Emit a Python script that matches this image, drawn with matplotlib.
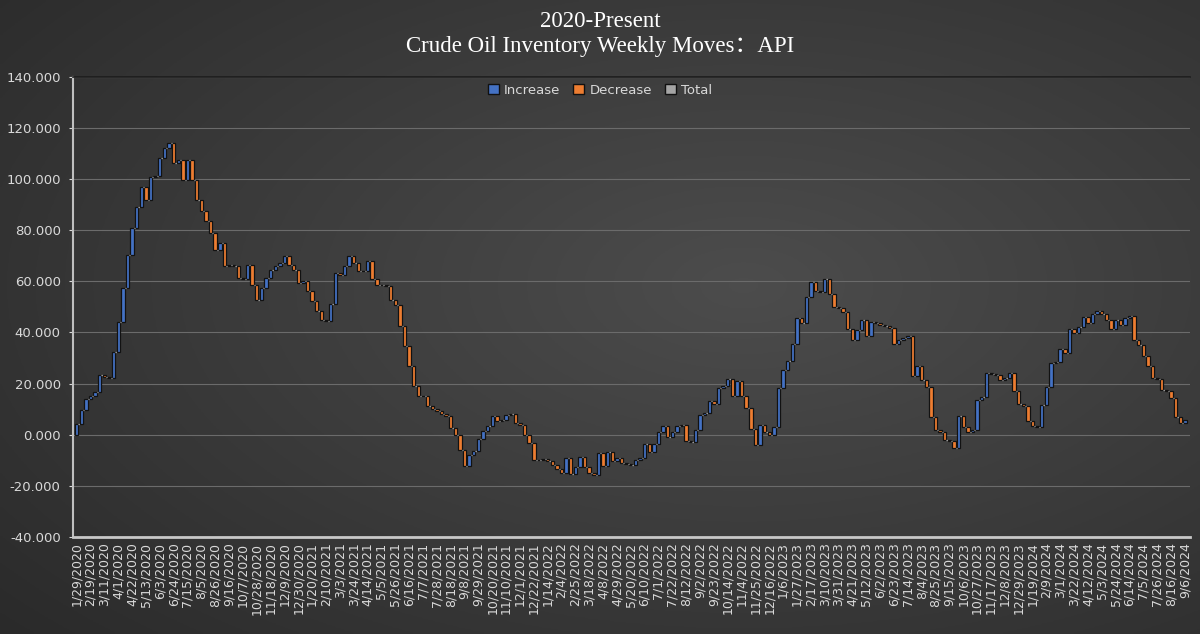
import numpy as np
import matplotlib
matplotlib.use('Agg')
import matplotlib.pyplot as plt
from matplotlib.patches import Patch

# Running total of weekly API crude moves since 1/29/2020
lvl_2020 = [4.0, 9.5, 14.1, 15.0, 16.7, 23.3, 22.6, 22.0, 32.4, 44.2, 57.3, 70.3, 80.8,
            89.0, 96.9, 91.9, 100.7, 101.0, 108.2, 112.2, 114.1, 106.3, 107.6, 99.7,
            107.3, 99.7, 91.9, 87.3, 83.4, 78.8, 72.3, 74.9, 65.8, 66.4, 66.0, 61.2,
            60.9, 66.4, 58.6, 52.7, 57.4, 61.3, 64.6, 66.0, 67.2, 69.8, 66.5, 64.6, 59.4]
lvl_2021 = [60.0, 56.1, 52.2, 48.3, 45.0, 44.3, 51.0, 63.3, 62.5, 66.0, 69.8, 67.2, 63.9,
            64.0, 67.8, 60.7, 58.7, 58.5, 58.3, 52.8, 50.8, 42.4, 34.5, 26.7, 18.9, 15.0,
            15.3, 11.1, 10.0, 9.1, 8.2, 7.2, 2.6, 0.0, -5.9, -12.1, -7.8, -6.5, -1.7, 1.3,
            3.3, 7.2, 5.2, 5.6, 7.8, 8.1, 4.6, 3.9, 0.0, -3.3, -9.8, -10.0]
lvl_2022 = [-9.5, -10.4, -11.7, -13.4, -15.0, -9.0, -15.5, -12.8, -8.9, -12.8, -14.8,
            -15.8, -7.3, -12.2, -6.9, -10.2, -9.1, -10.9, -11.5, -11.8, -9.9, -9.1, -3.6,
            -6.9, -3.6, 1.1, 3.3, -0.7, 1.1, 3.3, 3.7, -2.3, -2.9, 1.7, 7.7, 8.6, 13.0,
            12.0, 18.3, 18.9, 21.6, 15.0, 20.9, 15.0, 10.3, 2.4, -4.2, 3.7, 1.0, -0.3, 3.0, 18.2]
lvl_2023 = [25.4, 28.7, 35.3, 45.8, 43.8, 53.7, 59.6, 56.3, 56.0, 60.7, 55.0, 50.1, 49.7,
            47.8, 41.4, 37.2, 41.0, 45.0, 38.6, 44.0, 43.5, 43.0, 42.5, 41.8, 35.3, 37.2,
            37.8, 38.6, 22.8, 26.7, 21.4, 18.8, 7.0, 1.8, 1.2, -2.0, -2.6, -5.2, 7.4, 3.2,
            0.9, 1.7, 13.6, 14.7, 24.0, 23.8, 23.4, 21.4, 22.0, 24.3, 16.9, 12.1]
lvl_2024 = [11.3, 5.2, 3.5, 3.2, 11.7, 18.8, 27.9, 28.6, 33.4, 31.8, 41.2, 39.6, 42.2,
            46.1, 43.5, 47.4, 48.4, 47.4, 44.8, 41.2, 44.8, 42.9, 45.5, 46.4, 37.0, 35.0,
            30.8, 26.9, 22.1, 21.7, 17.3, 16.9, 14.3, 7.1, 4.5, 5.8]

tick_labels = [
    '1/29/2020', '2/19/2020', '3/11/2020', '4/1/2020', '4/22/2020', '5/13/2020',
    '6/3/2020', '6/24/2020', '7/15/2020', '8/5/2020', '8/26/2020', '9/16/2020',
    '10/7/2020', '10/28/2020', '11/18/2020', '12/9/2020', '12/30/2020', '1/20/2021',
    '2/10/2021', '3/3/2021', '3/24/2021', '4/14/2021', '5/5/2021', '5/26/2021',
    '6/16/2021', '7/7/2021', '7/28/2021', '8/18/2021', '9/8/2021', '9/29/2021',
    '10/20/2021', '11/10/2021', '12/1/2021', '12/22/2021', '1/14/2022', '2/4/2022',
    '2/25/2022', '3/18/2022', '4/8/2022', '4/29/2022', '5/20/2022', '6/10/2022',
    '7/1/2022', '7/22/2022', '8/12/2022', '9/2/2022', '9/23/2022', '10/14/2022',
    '11/4/2022', '11/25/2022', '12/16/2022', '1/6/2023', '1/27/2023', '2/17/2023',
    '3/10/2023', '3/31/2023', '4/21/2023', '5/12/2023', '6/2/2023', '6/23/2023',
    '7/14/2023', '8/4/2023', '8/25/2023', '9/15/2023', '10/6/2023', '10/27/2023',
    '11/17/2023', '12/8/2023', '12/29/2023', '1/19/2024', '2/9/2024', '3/1/2024',
    '3/22/2024', '4/12/2024', '5/3/2024', '5/24/2024', '6/14/2024', '7/5/2024',
    '7/26/2024', '8/16/2024', '9/6/2024']

levels = np.array(lvl_2020 + lvl_2021 + lvl_2022 + lvl_2023 + lvl_2024)
prev = np.concatenate([[0.0], levels[:-1]])
moves = levels - prev
x = np.arange(len(levels))

c_up = '#4472C4'
c_down = '#ED7D31'
c_total = '#A5A5A5'
txt = '#d9d9d9'

fig = plt.figure(figsize=(12, 6.34), dpi=100)

# dark radial background
bg = fig.add_axes([0, 0, 1, 1], zorder=-10)
gx, gy = np.meshgrid(np.linspace(0, 1, 400), np.linspace(0, 1, 220))
r = np.sqrt(((gx - 0.62) / 0.8) ** 2 + ((gy - 0.55) / 0.8) ** 2)
shade = np.clip(0.30 - 0.13 * r, 0.165, 0.30)
bg.imshow(np.dstack([shade] * 3), extent=[0, 1, 0, 1], aspect='auto', origin='lower')
bg.axis('off')

ax = fig.add_axes([0.061, 0.153, 0.931, 0.726])
ax.patch.set_alpha(0)

colors = np.where(moves >= 0, c_up, c_down)
ax.bar(x, moves, bottom=prev, width=0.74, color=colors,
       edgecolor='#121212', linewidth=0.9, zorder=3)
# connectors between bars
ax.hlines(levels[:-1], x[:-1] + 0.37, x[1:] - 0.37, colors='#b5b5b5',
          linewidth=0.9, linestyles=(0, (1, 1)), zorder=4)

ax.set_xlim(-0.75, 241.2)
ax.set_ylim(-40, 140)
ax.set_yticks(np.arange(-40, 141, 20))
ax.set_yticklabels([f'{v:.3f}' for v in np.arange(-40, 141, 20)])
ax.set_xticks(x[::3])
ax.set_xticklabels(tick_labels, rotation=90)
ax.tick_params(axis='x', length=0, pad=4, labelsize=9, colors=txt)
ax.tick_params(axis='y', length=3, pad=6, labelsize=9.5, colors=txt)
ax.grid(axis='y', color='#6b6b6b', linewidth=0.8, zorder=0)
ax.set_axisbelow(True)

ax.spines['left'].set_color('#bfbfbf')
ax.spines['left'].set_linewidth(1.5)
ax.spines['bottom'].set_color('#c8c8c8')
ax.spines['bottom'].set_linewidth(2)
ax.spines['top'].set_color('#1c1c1c')
ax.spines['top'].set_linewidth(1.2)
ax.spines['right'].set_visible(False)

serif = ['Liberation Serif', 'Noto Sans CJK SC']
fig.text(0.5, 0.966, '2020-Present', ha='center', va='center',
         fontsize=16.5, color='white', family=serif)
fig.text(0.5, 0.927, 'Crude Oil Inventory Weekly Moves：API', ha='center', va='center',
         fontsize=16.5, color='white', family=serif)

handles = [Patch(facecolor=c_up, edgecolor='#111111', label='Increase'),
           Patch(facecolor=c_down, edgecolor='#111111', label='Decrease'),
           Patch(facecolor=c_total, edgecolor='#111111', label='Total')]
fig.legend(handles=handles, loc='center', bbox_to_anchor=(0.5, 0.858), ncol=3,
           frameon=False, fontsize=9.5, labelcolor=txt, handlelength=0.8,
           handleheight=0.8, handletextpad=0.4, columnspacing=1.0)

plt.savefig('out.png', dpi=100)
